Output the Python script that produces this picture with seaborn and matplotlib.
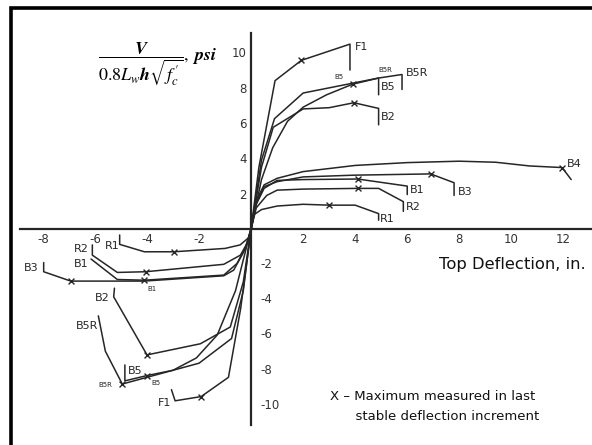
import numpy as np
import pandas as pd
import seaborn as sns
import matplotlib.pyplot as plt
from matplotlib.patches import Rectangle

# Load-deflection envelopes (x: top deflection in., y: V/(0.8 Lw h sqrt(f'c)))
# positive direction
F1_pos_x = [0, 0.3, 0.92, 1.93, 3.8, 3.8]
F1_pos_y = [0, 3.5, 8.4, 9.55, 10.47, 9.0]
B5R_pos_x = [0, 0.4, 0.9, 2.0, 4.9, 5.8, 5.8]
B5R_pos_y = [0, 3.9, 6.25, 7.7, 8.55, 8.75, 7.9]
B5_pos_x = [0, 0.4, 0.83, 1.4, 2.0, 2.9, 3.9, 4.9, 4.9]
B5_pos_y = [0, 2.8, 4.6, 6.1, 6.9, 7.6, 8.2, 8.55, 7.6]
B2_pos_x = [0, 0.4, 0.85, 2.0, 3.0, 3.95, 4.9, 4.9]
B2_pos_y = [0, 3.5, 5.76, 6.8, 6.87, 7.15, 6.83, 5.9]
B4_pos_x = [0, 0.2, 0.5, 1.0, 2.0, 4.0, 6.0, 8.0, 9.4, 10.7, 11.95, 12.3]
B4_pos_y = [0, 1.6, 2.5, 2.87, 3.25, 3.6, 3.76, 3.84, 3.78, 3.57, 3.48, 2.8]
B3_pos_x = [0, 0.2, 0.5, 1.0, 2.0, 4.0, 6.9, 7.8, 7.8]
B3_pos_y = [0, 1.5, 2.4, 2.68, 2.95, 3.05, 3.12, 2.62, 1.9]
B1_pos_x = [0, 0.2, 0.5, 1.0, 2.0, 4.1, 6.0, 6.0]
B1_pos_y = [0, 1.4, 2.3, 2.75, 2.8, 2.83, 2.43, 1.95]
R2_pos_x = [0, 0.2, 0.6, 1.0, 2.0, 4.1, 4.9, 5.85, 5.85]
R2_pos_y = [0, 1.2, 1.9, 2.2, 2.26, 2.3, 2.3, 1.55, 1.0]
R1_pos_x = [0, 0.1, 0.4, 1.0, 2.0, 3.0, 4.0, 4.9, 4.9]
R1_pos_y = [0, 0.8, 1.1, 1.3, 1.4, 1.35, 1.35, 0.87, 0.5]

# negative direction
R1_neg_x = [0, -0.1, -0.42, -1.0, -2.97, -4.1, -5.05, -5.05]
R1_neg_y = [0, -0.5, -0.9, -1.1, -1.29, -1.29, -0.87, -0.34]
R2_neg_x = [0, -0.15, -0.41, -1.05, -4.05, -5.14, -6.1, -6.1]
R2_neg_y = [0, -0.8, -1.48, -2.0, -2.42, -2.46, -1.48, -0.9]
B1_neg_x = [0, -0.2, -0.54, -1.05, -4.1, -5.14, -6.15]
B1_neg_y = [0, -1.0, -1.95, -2.61, -2.9, -2.86, -1.7]
B3_neg_x = [0, -0.25, -0.67, -1.05, -4.12, -6.93, -7.97, -7.97]
B3_neg_y = [0, -1.2, -2.33, -2.65, -2.95, -2.95, -2.42, -1.9]
B2_neg_x = [0, -0.3, -0.8, -1.95, -4.0, -5.28, -5.25]
B2_neg_y = [0, -3.0, -5.55, -6.5, -7.13, -3.84, -3.35]
B5_neg_x = [0, -0.3, -0.75, -2.0, -3.0, -4.0, -4.85, -4.85]
B5_neg_y = [0, -3.5, -6.2, -7.6, -8.0, -8.3, -8.6, -7.7]
B5R_neg_x = [0, -0.6, -1.3, -2.1, -3.0, -4.0, -4.95, -5.6, -5.87]
B5R_neg_y = [0, -3.5, -6.0, -7.3, -8.0, -8.4, -8.78, -6.92, -4.92]
F1_neg_x = [0, -0.4, -0.87, -1.92, -2.92, -3.06]
F1_neg_y = [0, -4.5, -8.4, -9.49, -9.73, -9.1]

curves = {
    "F1+": (F1_pos_x, F1_pos_y, 3), "B5R+": (B5R_pos_x, B5R_pos_y, None),
    "B5+": (B5_pos_x, B5_pos_y, 6), "B2+": (B2_pos_x, B2_pos_y, 5),
    "B4+": (B4_pos_x, B4_pos_y, 10), "B3+": (B3_pos_x, B3_pos_y, 6),
    "B1+": (B1_pos_x, B1_pos_y, 5), "R2+": (R2_pos_x, R2_pos_y, 5),
    "R1+": (R1_pos_x, R1_pos_y, 5),
    "R1-": (R1_neg_x, R1_neg_y, 4), "R2-": (R2_neg_x, R2_neg_y, 4),
    "B1-": (B1_neg_x, B1_neg_y, 4), "B3-": (B3_neg_x, B3_neg_y, 5),
    "B2-": (B2_neg_x, B2_neg_y, 4), "B5-": (B5_neg_x, B5_neg_y, 5),
    "B5R-": (B5R_neg_x, B5R_neg_y, 6), "F1-": (F1_neg_x, F1_neg_y, 3),
}

# curve end labels (text, x, y, size)
labels = [
    ("F1", 4.0, 10.3, 8), ("B5R", 5.95, 8.82, 8), ("B5", 5.0, 8.06, 8),
    ("B5", 3.2, 8.6, 5), ("B5R", 4.9, 9.02, 5), ("B2", 5.0, 6.35, 8),
    ("B4", 12.15, 3.7, 8), ("B3", 7.95, 2.1, 8), ("B1", 6.1, 2.2, 8),
    ("R2", 5.95, 1.22, 8), ("R1", 4.95, 0.55, 8),
    ("R1", -5.62, -0.95, 8), ("R2", -6.8, -1.12, 8), ("B1", -6.8, -1.98, 8),
    ("B1", -4.0, -3.4, 5), ("B3", -8.75, -2.22, 8), ("B2", -6.0, -3.88, 8),
    ("B5R", -6.75, -5.49, 8), ("B5", -4.75, -8.02, 8), ("B5", -3.85, -8.73, 5),
    ("B5R", -5.85, -8.86, 5), ("F1", -3.6, -9.87, 8),
]

xticks = [-8, -6, -4, -2, 2, 4, 6, 8, 10, 12]
yticks = [-10, -8, -6, -4, -2, 2, 4, 6, 8, 10]

rows, maxima = [], []
for name, (xs, ys, imax) in curves.items():
    for i, (x, y) in enumerate(zip(xs, ys)):
        rows.append({"curve": name, "order": i, "x": x, "y": y})
    if imax is not None:
        maxima.append({"x": xs[imax], "y": ys[imax]})
df = pd.DataFrame(rows)
df_max = pd.DataFrame(maxima)

sns.set_style("white")
plt.rcParams["font.family"] = ["DejaVu Sans"]
plt.rcParams["mathtext.fontset"] = "stix"

fig = plt.figure(figsize=(5.92, 4.45), dpi=100)
ax = fig.add_axes([20 / 592, 1 - 425 / 445, 572 / 592, 392 / 445])
ink = "#262626"

sns.lineplot(data=df, x="x", y="y", units="curve", estimator=None, sort=False,
             color=ink, linewidth=1.1, ax=ax, legend=False)
sns.scatterplot(data=df_max, x="x", y="y", marker="x", s=18, color=ink,
                linewidth=1.0, ax=ax, legend=False, zorder=3)

ax.set_xlim(-8.88, 13.1)
ax.set_ylim(-11.1, 11.1)
for s in ["top", "right"]:
    ax.spines[s].set_visible(False)
ax.spines["left"].set_position(("data", 0))
ax.spines["bottom"].set_position(("data", 0))
for s in ["left", "bottom"]:
    ax.spines[s].set_color(ink)
    ax.spines[s].set_linewidth(1.6)
ax.set_xticks(xticks)
ax.set_yticks(yticks)
ax.set_xticklabels([str(t) for t in xticks])
ax.set_yticklabels([str(t) if t > 0 else "" for t in yticks])
ax.tick_params(direction="inout", length=6, width=1.0, color=ink,
               labelsize=8.5, labelcolor="#333333", pad=0)
# negative y tick labels sit to the right of the vertical axis
for t in yticks:
    if t < 0:
        ax.text(0.35, t, str(t), fontsize=8.5, color="#333333", va="center", ha="left")
ax.set_xlabel("")
ax.set_ylabel("")

for txt, x, y, size in labels:
    ax.text(x, y, txt, fontsize=size, color=ink, va="center", ha="left")

ax.text(-3.6, 9.3,
        r"$\dfrac{\boldsymbol{V}}{0.8\boldsymbol{L_w h}\sqrt{\boldsymbol{f^{\,\prime}_c}}}$" + r"$\boldsymbol{,\ psi}$",
        fontsize=13, ha="center", va="center", color="black")
ax.text(12.85, -2.0, "Top Deflection, in.", fontsize=11.8, ha="right", va="center", color="#111111")
ax.text(3.05, -10.05, "X \u2013 Maximum measured in last\n      stable deflection increment",
        fontsize=9.5, ha="left", va="center", color="#111111", linespacing=1.65)

fig.patches.append(Rectangle((10.5 / 592, -0.1), 1.2, 1.1 - 8.5 / 445, transform=fig.transFigure,
                             fill=False, edgecolor="black", linewidth=2.6))

fig.savefig("out.png", dpi=100)
